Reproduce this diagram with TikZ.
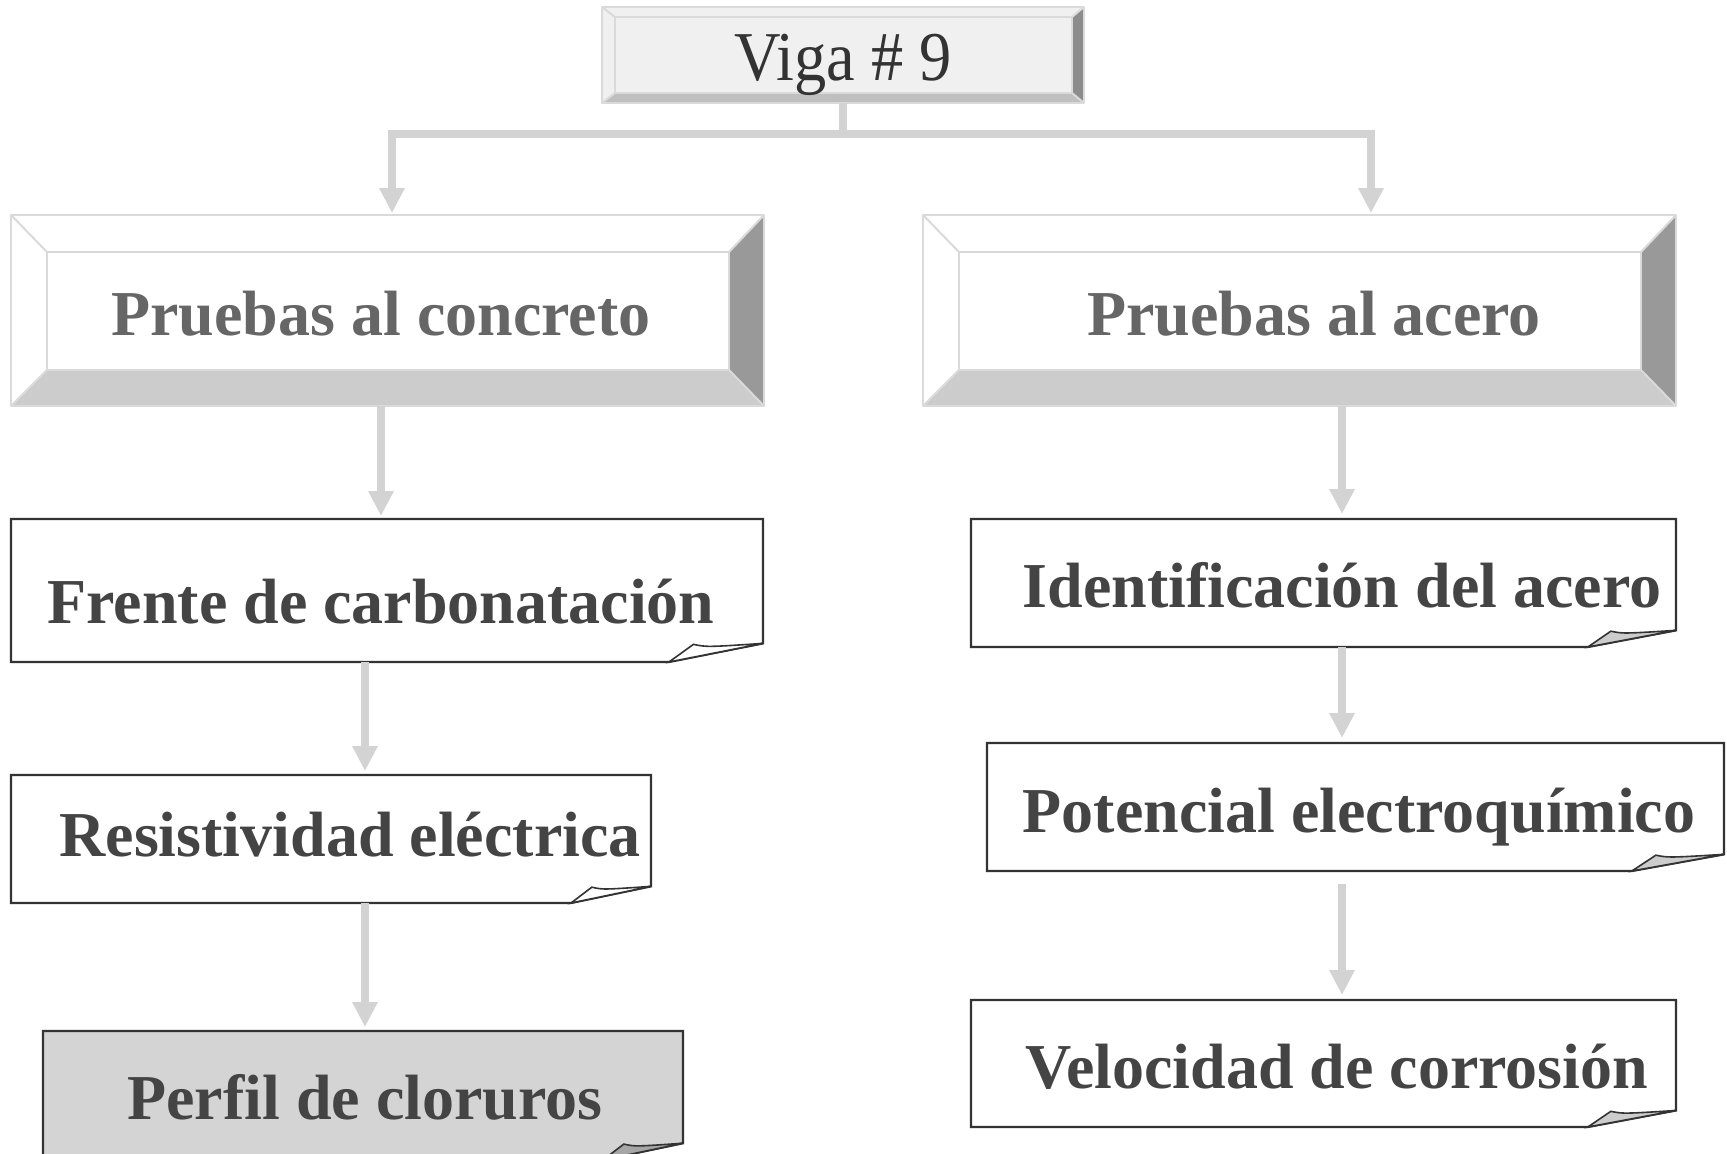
\documentclass[tikz,border=0pt]{standalone}
\usepackage{fontspec}
\usepackage{graphicx}
\setmainfont{Liberation Serif}
\usetikzlibrary{arrows.meta}
\definecolor{arrowcol}{HTML}{D3D3D3}
\definecolor{bevline}{HTML}{DADADA}
\definecolor{foldline}{HTML}{333333}
\definecolor{txtdark}{HTML}{444444}
\definecolor{txtmid}{HTML}{666666}
\definecolor{txtviga}{HTML}{333333}
\tikzset{
  conn/.style={draw=arrowcol, line width=8pt},
  arr/.style={conn, -{Triangle[width=24pt,length=25pt]}},
  bevedge/.style={draw=bevline, line width=2pt, line join=round},
  foldedge/.style={draw=foldline, line width=2.2pt, line join=miter},
  anchorbox/.style={rectangle, inner sep=0pt, outer sep=0pt, draw=none},
  boldtxt/.style={font=\fontsize{64}{70}\selectfont\bfseries, text=txtdark, anchor=base, inner sep=0pt},
  headtxt/.style={boldtxt, text=txtmid},
  vigatxt/.style={font=\fontsize{70}{76}\selectfont, text=txtviga, anchor=base, inner sep=0pt},
}
% #1 name, #2 x1, #3 y1, #4 x2, #5 y2, #6 ix1, #7 iy1, #8 ix2, #9 iy2
\newcommand\bevelbox[9]{%
  \fill[bvtop] (#2,#3) -- (#4,#3) -- (#8,#7) -- (#6,#7) -- cycle;
  \fill[bvleft] (#2,#3) -- (#6,#7) -- (#6,#9) -- (#2,#5) -- cycle;
  \fill[bvright] (#4,#3) -- (#4,#5) -- (#8,#9) -- (#8,#7) -- cycle;
  \fill[bvbot] (#2,#5) -- (#4,#5) -- (#8,#9) -- (#6,#9) -- cycle;
  \fill[bvface] (#6,#7) rectangle (#8,#9);
  \draw[bevedge] (#2,#3) rectangle (#4,#5);
  \draw[bevedge] (#6,#7) rectangle (#8,#9);
  \draw[bevedge] (#2,#3) -- (#6,#7) (#4,#3) -- (#8,#7) (#2,#5) -- (#6,#9) (#4,#5) -- (#8,#9);
  \node[anchorbox, minimum width={(#4-#2)*1pt}, minimum height={(#5-#3)*1pt}] (#1) at ({(#2+#4)/2},{(#3+#5)/2}) {};
}
% #1 name, #2 x1, #3 y1, #4 x2, #5 y2, #6 fill
\newcommand\foldbox[6]{%
  \pgfmathsetmacro\fdx{0.125*(#4-#2)}%
  \pgfmathsetmacro\fdy{0.13*(#5-#3)}%
  \draw[foldedge, fill=#6] (#2,#3) -- (#4,#3) -- (#4,#5-\fdy) -- (#4-\fdx,#5) -- (#2,#5) -- cycle;
  \draw[foldedge, fill=flapcol, line width=1.6pt] (#4-\fdx,#5) -- ({#4-0.74*\fdx},{#5-0.95*\fdy}) .. controls ({#4-0.6*\fdx},{#5-0.8*\fdy}) .. (#4,#5-\fdy) -- cycle;
  \node[anchorbox, minimum width={(#4-#2)*1pt}, minimum height={(#5-#3)*1pt}] (#1) at ({(#2+#4)/2},{(#3+#5)/2}) {};
}
\begin{document}
\begin{tikzpicture}[x=1pt,y=-1pt]
\useasboundingbox[fill=white] (0,0) rectangle (1727,1154);

% ---- Viga box
\colorlet{bvtop}{black!6}\colorlet{bvleft}{black!6}\colorlet{bvright}{black!45}
\colorlet{bvbot}{black!25}\colorlet{bvface}{black!6}
\bevelbox{viga}{602}{7}{1084}{103}{615}{17}{1072}{93}
\node[vigatxt] (viga-t) at (843,80) {\scalebox{0.92}[1]{Viga \# 9}};

% ---- heading boxes
\colorlet{bvtop}{white}\colorlet{bvleft}{white}\colorlet{bvright}{black!40}
\colorlet{bvbot}{black!20}\colorlet{bvface}{white}
\bevelbox{conc}{11}{215}{764}{406}{47}{252}{729}{370}
\node[headtxt] (conc-t) at (381,335) {Pruebas al concreto};
\bevelbox{acero}{923}{215}{1676}{406}{959}{252}{1641}{370}
\node[headtxt] (acero-t) at (1314,335) {Pruebas al acero};

% ---- folded boxes, left
\colorlet{flapcol}{white}
\foldbox{frente}{11}{519}{763}{662}{white}
\node[boldtxt] (frente-t) at (381,623) {Frente de carbonatación};
\foldbox{resist}{11}{775}{651}{903}{white}
\node[boldtxt] (resist-t) at (350,856) {Resistividad eléctrica};
\colorlet{flapcol}{black!35}
\foldbox{perfil}{43}{1031}{683}{1160}{black!17}
\node[boldtxt] (perfil-t) at (365,1119) {Perfil de cloruros};

% ---- folded boxes, right
\colorlet{flapcol}{black!20}
\foldbox{ident}{971}{519}{1676}{647}{white}
\node[boldtxt] (ident-t) at (1342,607) {Identificación del acero};
\foldbox{poten}{987}{743}{1724}{871}{white}
\node[boldtxt] (poten-t) at (1359,832) {Potencial electroquímico};
\foldbox{veloc}{971}{1000}{1676}{1127}{white}
\node[boldtxt] (veloc-t) at (1337,1088) {Velocidad de corrosión};

% ---- connectors
\coordinate (j) at (843,134);
\coordinate (cinL) at (392,213);
\coordinate (cinR) at (1371,213);
\draw[conn] (viga.south) -- (j);
\draw[arr] (j) -| (cinL);
\draw[arr] (j) -| (cinR);

\coordinate (xa) at (381,0);
\coordinate (xb) at (365,0);
\coordinate (xc) at (1342,0);
\coordinate (pstart) at (1342,884);
\draw[arr, shorten >=3pt] (conc.south -| xa) -- (frente.north -| xa);
\draw[arr, shorten >=4pt] (frente.south -| xb) -- (resist.north -| xb);
\draw[arr, shorten >=4pt] (resist.south -| xb) -- (perfil.north -| xb);
\draw[arr, shorten >=5pt] (acero.south -| xc) -- (ident.north -| xc);
\draw[arr, shorten >=5pt] (ident.south -| xc) -- (poten.north -| xc);
\draw[arr, shorten >=5pt] (pstart) -- (veloc.north -| xc);
\end{tikzpicture}
\end{document}
